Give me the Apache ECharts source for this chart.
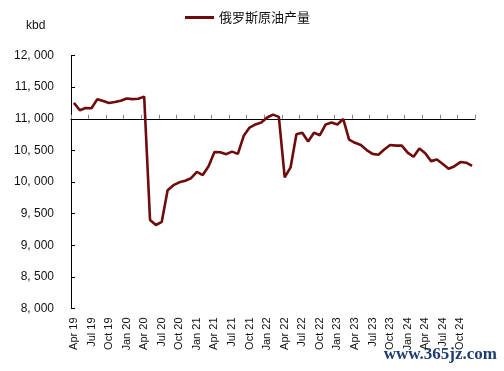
<!DOCTYPE html>
<html>
<head>
<meta charset="utf-8">
<script src="https://cdn.jsdelivr.net/npm/echarts@6/dist/echarts.min.js"></script>
<style>
html,body{margin:0;padding:0;background:#fff;}
#c{width:504px;height:371px;}
</style>
</head>
<body>
<div id="c"></div>
<script>
var categories = [
 "Apr 19","May 19","Jun 19","Jul 19","Aug 19","Sep 19","Oct 19","Nov 19","Dec 19",
 "Jan 20","Feb 20","Mar 20","Apr 20","May 20","Jun 20","Jul 20","Aug 20","Sep 20","Oct 20","Nov 20","Dec 20",
 "Jan 21","Feb 21","Mar 21","Apr 21","May 21","Jun 21","Jul 21","Aug 21","Sep 21","Oct 21","Nov 21","Dec 21",
 "Jan 22","Feb 22","Mar 22","Apr 22","May 22","Jun 22","Jul 22","Aug 22","Sep 22","Oct 22","Nov 22","Dec 22",
 "Jan 23","Feb 23","Mar 23","Apr 23","May 23","Jun 23","Jul 23","Aug 23","Sep 23","Oct 23","Nov 23","Dec 23",
 "Jan 24","Feb 24","Mar 24","Apr 24","May 24","Jun 24","Jul 24","Aug 24","Sep 24","Oct 24","Nov 24","Dec 24"
];
var seriesName = "俄罗斯原油产量";
var production = [
 11250,11135,11170,11165,11310,11280,11250,11265,11285,
 11320,11310,11315,11350,9400,9320,9370,9870,9950,9995,10020,10060,
 10160,10110,10250,10475,10470,10440,10480,10445,10730,10860,10910,10940,
 11020,11065,11030,10075,10230,10755,10780,10640,10780,10740,10910,10940,
 10910,10995,10670,10620,10585,10505,10445,10430,10515,10585,10575,10575,
 10465,10400,10530,10455,10330,10355,10285,10210,10250,10315,10305,10255
];
var yMin = 8000, yMax = 12000, yStep = 500, crossValue = 11000;
var unitLabel = "kbd";
var watermark = "www.365jz.com";

var gridTop = 55.5, gridBottom = 62.5, gridLeft = 71, gridRight = 29;
var gridH = 371 - gridTop - gridBottom;
var crossOffset = -gridH * (crossValue - yMin) / (yMax - yMin);

function fmt(v){
  var s = String(v);
  if (s.length > 3) return s.slice(0, s.length-3) + ", " + s.slice(s.length-3);
  return s;
}

var chart = echarts.init(document.getElementById('c'), null, {renderer:'canvas'});
chart.setOption({
  animation:false,
  backgroundColor:'#fff',
  textStyle:{fontFamily:'Liberation Sans, Arial, sans-serif'},
  title:{text:unitLabel,left:21,top:15,textStyle:{fontSize:12,fontWeight:'normal',color:'#111',fontFamily:'Liberation Sans, Arial'}},
  legend:{
    data:[seriesName],top:6,left:180,
    icon:'rect',itemWidth:29,itemHeight:3,itemGap:6,
    textStyle:{fontSize:13,color:'#111',fontFamily:'Noto Sans CJK SC'}
  },
  grid:{left:gridLeft,right:gridRight,top:gridTop,bottom:gridBottom,containLabel:false},
  xAxis:[{
    type:'category',data:categories,boundaryGap:true,
    axisLine:{show:false},axisTick:{show:false},
    axisLabel:{interval:2,rotate:90,fontSize:11,color:'#111',margin:9,fontFamily:'Liberation Sans, Arial'},
    splitLine:{show:false}
  },{
    type:'category',data:categories,boundaryGap:true,position:'bottom',offset:crossOffset,
    axisLine:{show:true,lineStyle:{color:'#000',width:1}},
    axisTick:{show:true,inside:true,interval:2,length:4,lineStyle:{color:'#888'}},
    axisLabel:{show:false},splitLine:{show:false}
  }],
  yAxis:{
    type:'value',min:yMin,max:yMax,interval:yStep,
    axisLine:{show:true,lineStyle:{color:'#000',width:1}},
    axisTick:{show:true,inside:true,length:4,lineStyle:{color:'#000'}},
    axisLabel:{fontSize:12,color:'#111',margin:17,formatter:fmt,fontFamily:'Liberation Sans, Arial'},
    splitLine:{show:false}
  },
  series:[{
    name:seriesName,type:'line',data:production,xAxisIndex:0,
    showSymbol:false,symbol:'none',
    lineStyle:{color:'#6E0B0B',width:2.6},
    itemStyle:{color:'#6E0B0B'},
    z:5
  }],
  graphic:[{
    type:'text',right:7,top:346,
    style:{text:watermark,fontSize:17,fontFamily:'Liberation Serif',fontWeight:'bold',fill:'#1F3D70'}
  }]
});
</script>
</body>
</html>
